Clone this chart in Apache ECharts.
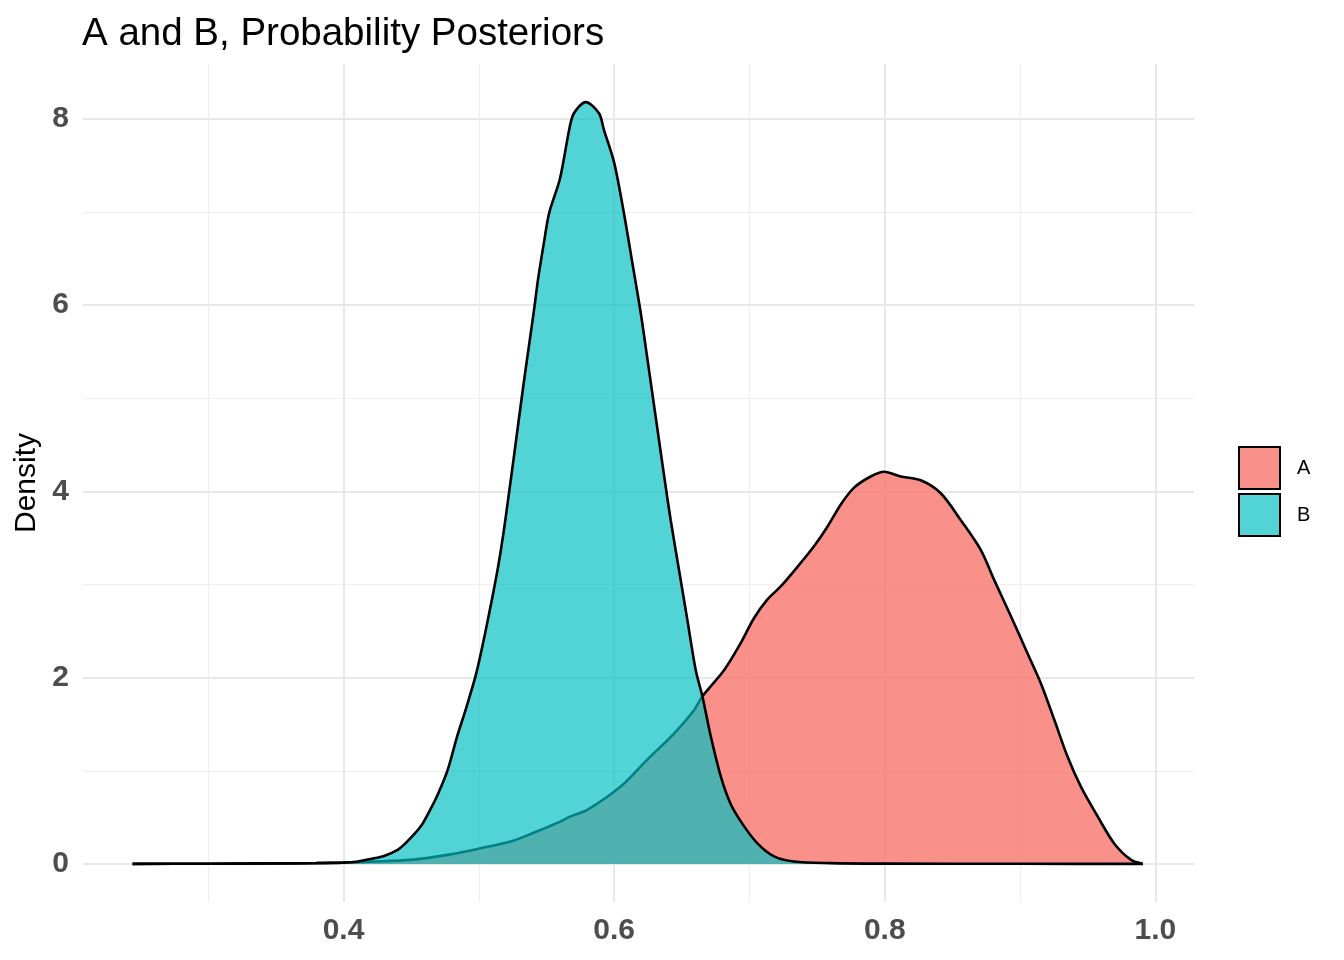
<!DOCTYPE html>
<html>
<head>
<meta charset="utf-8">
<script src="https://cdn.jsdelivr.net/npm/echarts@6/dist/echarts.min.js"></script>
<style>
html,body{margin:0;padding:0;background:#fff;}
#chart{width:1344px;height:960px;}
</style>
</head>
<body>
<div id="chart"></div>
<script>
// ---- data ----
const seriesNames = ['A', 'B'];
const densityA = [
  [0.2441, 0.0], [0.30, 0.002], [0.35, 0.006], [0.38, 0.01], [0.40, 0.015], [0.42, 0.025],
  [0.4495, 0.043], [0.4767, 0.097], [0.5013, 0.168], [0.5235, 0.24], [0.5432, 0.35],
  [0.558, 0.44], [0.5678, 0.51], [0.5802, 0.58], [0.6048, 0.83], [0.6245, 1.12],
  [0.6442, 1.40], [0.659, 1.65], [0.6652, 1.80], [0.6812, 2.08], [0.6935, 2.37],
  [0.7034, 2.64], [0.7133, 2.84], [0.7231, 2.98], [0.7355, 3.19], [0.7477, 3.41],
  [0.7576, 3.62], [0.7675, 3.86], [0.7773, 4.04], [0.7896, 4.16], [0.7995, 4.21],
  [0.8118, 4.16], [0.8266, 4.12], [0.8414, 3.98], [0.8562, 3.69], [0.8710, 3.37],
  [0.8808, 3.05], [0.8932, 2.66], [0.9055, 2.26], [0.9153, 1.94], [0.9252, 1.55],
  [0.9351, 1.15], [0.9449, 0.83], [0.9573, 0.51], [0.9695, 0.22], [0.9820, 0.043],
  [0.9907, 0.0]
];
const densityB = [
  [0.2441, 0.0], [0.30, 0.002], [0.35, 0.005], [0.38, 0.008], [0.40, 0.014],
  [0.410, 0.024], [0.420, 0.053], [0.430, 0.086], [0.440, 0.150], [0.447, 0.239],
  [0.457, 0.401], [0.464, 0.580], [0.470, 0.757], [0.477, 1.010], [0.484, 1.369],
  [0.491, 1.69], [0.498, 2.04], [0.504, 2.43], [0.509, 2.79], [0.514, 3.17],
  [0.518, 3.53], [0.522, 3.95], [0.526, 4.38], [0.530, 4.82], [0.534, 5.25],
  [0.538, 5.66], [0.541, 5.97], [0.544, 6.30], [0.548, 6.66], [0.552, 6.99],
  [0.560, 7.36], [0.567, 7.90], [0.5703, 8.06], [0.579, 8.18], [0.5888, 8.06],
  [0.5925, 7.88], [0.600, 7.53], [0.6072, 6.99], [0.6135, 6.45], [0.6196, 5.92],
  [0.625, 5.38], [0.6307, 4.80], [0.6368, 4.18], [0.6418, 3.69], [0.6479, 3.16],
  [0.6541, 2.62], [0.6603, 2.08], [0.6652, 1.80], [0.6714, 1.37], [0.6788, 0.94],
  [0.6862, 0.64], [0.6948, 0.43], [0.7059, 0.22], [0.7182, 0.08], [0.7329, 0.025],
  [0.76, 0.008], [0.80, 0.003], [0.90, 0.001], [0.9907, 0.0]
];
const xMajorTicks = [0.4, 0.6, 0.8, 1.0];
const xMinorTicks = [0.3, 0.5, 0.7, 0.9];
const yMajorTicks = [0, 2, 4, 6, 8];
const yMinorTicks = [1, 3, 5, 7];
const titleText = 'A and B, Probability Posteriors';
const yTitle = 'Density';

// ---- chart ----
const FONT = '"Liberation Sans", Arial, Helvetica, sans-serif';
const X_MIN = 0.2075, X_MAX = 1.0285, Y_MIN = -0.409, Y_MAX = 8.589;
const fillA = 'rgba(248,118,109,0.8)';
const fillB = 'rgba(0,191,196,0.68)';

const chart = echarts.init(document.getElementById('chart'), null, {renderer: 'canvas'});

function valAxis(pos, min, max, ticks, gridWidth, gridColor, showLabels, extra) {
  return Object.assign({
    type: 'value', position: pos, offset: 0, min: min, max: max,
    axisLine: {show: false},
    axisTick: {show: false, customValues: ticks},
    axisLabel: {
      show: showLabels, customValues: ticks,
      color: '#4D4D4D', fontFamily: FONT, fontWeight: 'bold', fontSize: 30,
      formatter: function (v) { return v; }
    },
    splitLine: {show: true, lineStyle: {color: gridColor, width: gridWidth}},
    minorSplitLine: {show: false}
  }, extra || {});
}

const option = {
  backgroundColor: '#ffffff',
  animation: false,
  title: {
    text: titleText, left: 77, top: 10,
    textStyle: {color: '#000', fontFamily: FONT, fontWeight: 'normal', fontSize: 38.5}
  },
  legend: {
    orient: 'vertical', left: 1233, top: 441,
    itemWidth: 41, itemHeight: 42, itemGap: 3, icon: 'rect',
    itemStyle: {borderColor: '#000', borderWidth: 2},
    textStyle: {color: '#000', fontFamily: FONT, fontSize: 20, padding: [3, 0, 0, 12]},
    data: seriesNames
  },
  grid: {left: 83, right: 150, top: 64, bottom: 58, containLabel: false},
  xAxis: [
    valAxis('bottom', X_MIN, X_MAX, xMinorTicks, 1.2, '#EEEEEE', false),
    valAxis('bottom', X_MIN, X_MAX, xMajorTicks, 2, '#E8E8E8', true, {
      axisLabel: {show: true, customValues: xMajorTicks, margin: 14,
        color: '#4D4D4D', fontFamily: FONT, fontWeight: 'bold', fontSize: 30,
        formatter: function (v) { return v.toFixed(1); }}
    })
  ],
  yAxis: [
    valAxis('left', Y_MIN, Y_MAX, yMinorTicks, 1.2, '#EEEEEE', false),
    valAxis('left', Y_MIN, Y_MAX, yMajorTicks, 2, '#E8E8E8', true, {
      name: yTitle, nameLocation: 'middle', nameRotate: 90, nameGap: 41,
      nameTextStyle: {color: '#000', fontFamily: FONT, fontSize: 30},
      axisLabel: {show: true, customValues: yMajorTicks, margin: 14,
        color: '#4D4D4D', fontFamily: FONT, fontWeight: 'bold', fontSize: 30,
        formatter: function (v) { return v; }}
    })
  ],
  series: [
    {
      name: seriesNames[0], type: 'line', xAxisIndex: 1, yAxisIndex: 1, z: 2,
      data: densityA, smooth: 0.3, symbol: 'none', showSymbol: false,
      itemStyle: {color: fillA},
      lineStyle: {color: '#000', width: 2.6},
      areaStyle: {color: fillA, opacity: 1, origin: 0}
    },
    {
      name: seriesNames[1], type: 'line', xAxisIndex: 1, yAxisIndex: 1, z: 3,
      data: densityB, smooth: 0.3, symbol: 'none', showSymbol: false,
      itemStyle: {color: fillB},
      lineStyle: {color: '#000', width: 2.6},
      areaStyle: {color: fillB, opacity: 1, origin: 0}
    }
  ]
};
chart.setOption(option);
</script>
</body>
</html>
